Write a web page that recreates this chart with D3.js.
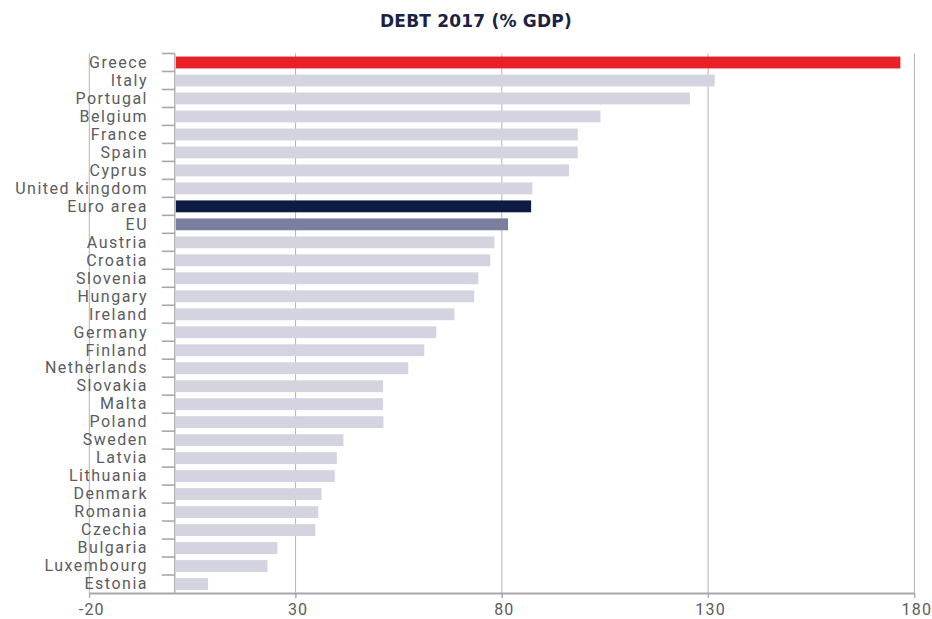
<!DOCTYPE html>
<html>
<head>
<meta charset="utf-8">
<script src="https://cdn.jsdelivr.net/npm/d3@7"></script>
<style>
  html, body { margin: 0; padding: 0; background: #fff; }
  svg { display: block; }
  text { font-family: Roboto, "Noto Sans", sans-serif; }
</style>
</head>
<body>
<svg id="chart" width="932" height="619"></svg>
<script>
// Government debt 2017, % of GDP
const countries = ["Greece", "Italy", "Portugal", "Belgium", "France", "Spain", "Cyprus",
  "United kingdom", "Euro area", "EU", "Austria", "Croatia", "Slovenia", "Hungary",
  "Ireland", "Germany", "Finland", "Netherlands", "Slovakia", "Malta", "Poland",
  "Sweden", "Latvia", "Lithuania", "Denmark", "Romania", "Czechia", "Bulgaria",
  "Luxembourg", "Estonia"];
const debt = [176.6, 131.6, 125.6, 103.9, 98.4, 98.4, 96.3,
  87.4, 87.1, 81.5, 78.2, 77.2, 74.3, 73.3,
  68.5, 64.1, 61.2, 57.3, 51.2, 51.2, 51.3,
  41.6, 40.0, 39.5, 36.3, 35.5, 34.8, 25.6,
  23.2, 8.8];
const xTicks = [-20, 30, 80, 130, 180];
const highlight = { "Greece": "#e8202a", "Euro area": "#0d1b45", "EU": "#7b7f9f" };
const baseColor = "#d4d4e0";

const data = countries.map((c, i) => ({ country: c, value: debt[i] }));

const svg = d3.select("#chart");
const plotTop = 53.5, plotBottom = 593, plotLeft = 89.3, plotRight = 914.4;

const x = d3.scaleLinear().domain([-20, 180]).range([plotLeft, plotRight]);
const y = d3.scaleBand().domain(countries).range([plotTop, plotBottom])
  .paddingInner(0.34).paddingOuter(0.17);

// title
svg.append("text")
  .attr("x", 476).attr("y", 27)
  .attr("text-anchor", "middle")
  .style("font-family", "'DejaVu Sans', sans-serif")
  .style("font-size", "17px").style("font-weight", 700)
  .attr("letter-spacing", 0.2)
  .attr("fill", "#1b2342")
  .text("DEBT 2017 (% GDP)");

// vertical gridlines
svg.append("g")
  .selectAll("line")
  .data(xTicks)
  .join("line")
  .attr("x1", d => x(d)).attr("x2", d => x(d))
  .attr("y1", plotTop).attr("y2", plotBottom + 5)
  .attr("stroke", "#b4b4b8").attr("stroke-width", 1);

// category axis line sits just right of zero; bars start at it
const x0 = x(0) + 3;

// bars
svg.append("g")
  .selectAll("rect")
  .data(data)
  .join("rect")
  .attr("x", x0 + 1)
  .attr("y", d => y(d.country))
  .attr("width", d => x(d.value) - x0 - 1)
  .attr("height", y.bandwidth())
  .attr("fill", d => highlight[d.country] || baseColor);

svg.append("line")
  .attr("x1", x0).attr("x2", x0)
  .attr("y1", plotTop).attr("y2", plotBottom)
  .attr("stroke", "#a8a8ac").attr("stroke-width", 1.3);

// ticks at band boundaries
svg.append("g")
  .selectAll("line")
  .data(d3.range(countries.length))
  .join("line")
  .attr("x1", x0 - 13).attr("x2", x0)
  .attr("y1", i => plotTop + i * y.step()).attr("y2", i => plotTop + i * y.step())
  .attr("stroke", "#a8a8ac").attr("stroke-width", 1.6);

// category labels
svg.append("g")
  .selectAll("text")
  .data(countries)
  .join("text")
  .attr("x", 148)
  .attr("y", d => y(d) + y.bandwidth() / 2)
  .attr("dy", "0.33em")
  .attr("text-anchor", "end")
  .attr("font-size", 16)
  .attr("letter-spacing", 1.5)
  .attr("fill", "#5a5c62")
  .text(d => d);

// value axis along the bottom
const xAxis = d3.axisBottom(x).tickValues(xTicks).tickSize(5).tickSizeOuter(0)
  .tickPadding(6).tickFormat(d => String(d));
const gx = svg.append("g")
  .attr("transform", `translate(0,${plotBottom})`)
  .call(xAxis);
gx.select(".domain").attr("stroke", "#a8a8ac").attr("stroke-width", 2.2);
gx.selectAll(".tick line").attr("stroke", "#a8a8ac");
gx.selectAll(".tick text")
  .attr("font-size", 16)
  .attr("letter-spacing", 1.2)
  .attr("fill", "#5a5c62")
  .attr("dx", 2);
</script>
</body>
</html>
